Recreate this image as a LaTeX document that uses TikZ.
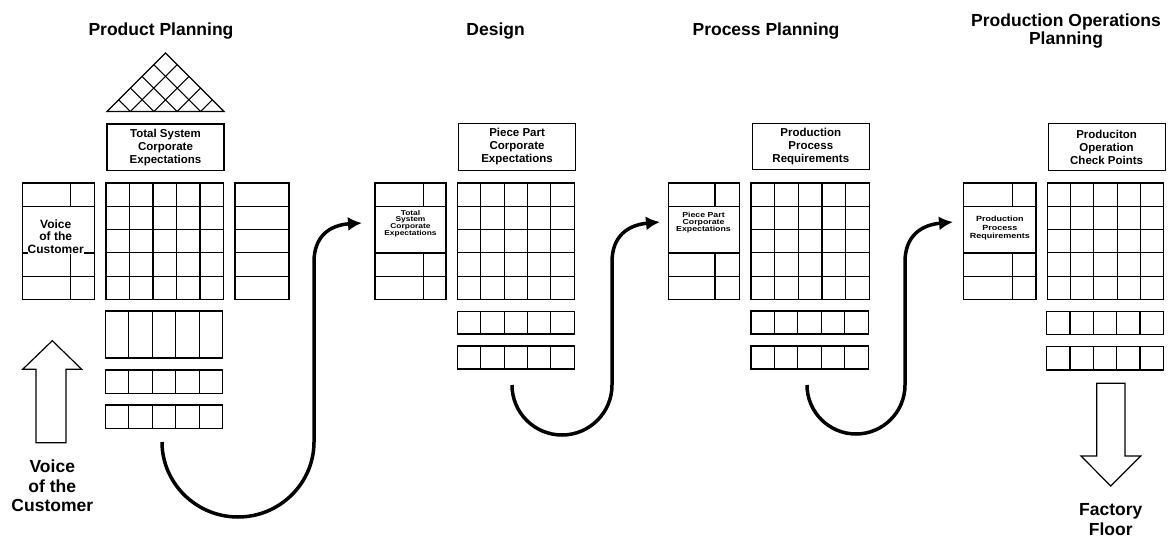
\documentclass[tikz,border=0pt]{standalone}
\usepackage{fontspec}
\usepackage{graphicx}
\setmainfont{Liberation Sans}
\usetikzlibrary{arrows.meta}

\tikzset{
  grid/.style={line width=1.1pt, black},
  flow/.style={line width=3.5pt, -{Latex[length=14pt,width=14pt]}},
  bigarrow/.style={draw, line width=1.2pt, fill=white, line join=miter},
  title/.style={font=\fontsize{17.5}{17.5}\selectfont\bfseries, align=center, inner sep=0pt},
  headbox/.style={draw, line width=1.1pt, minimum width=117pt, minimum height=46.5pt,
    inner sep=0pt, align=center, font=\fontsize{11.5}{13}\selectfont\bfseries},
  sidetxt/.style={align=center, inner sep=0pt},
}

% widened lettering for the small input lists
\newcommand\wide[1]{\scalebox{1.2}[1]{#1}}

% 5 x 5 relationship matrix
\newcommand\matrixgrid[4]{%
  \draw[grid] (#1,#2) rectangle (#3,#4);
  \foreach \k in {1,2,3,4}{
    \draw[grid] ({#1+(#3-#1)*\k/5},#2) -- ({#1+(#3-#1)*\k/5},#4);
    \draw[grid] (#1,{#2+(#4-#2)*\k/5}) -- (#3,{#2+(#4-#2)*\k/5});
  }}
% one row of five cells
\newcommand\rowgrid[4]{%
  \draw[grid] (#1,#2) rectangle (#3,#4);
  \foreach \k in {1,2,3,4}{
    \draw[grid] ({#1+(#3-#1)*\k/5},#2) -- ({#1+(#3-#1)*\k/5},#4);
  }}
% one column of five cells
\newcommand\colgrid[4]{%
  \draw[grid] (#1,#2) rectangle (#3,#4);
  \foreach \k in {1,2,3,4}{
    \draw[grid] (#1,{#2+(#4-#2)*\k/5}) -- (#3,{#2+(#4-#2)*\k/5});
  }}
% input list beside a matrix: left x, right x, divider x
\newcommand\inputbox[3]{%
  \draw[grid] (#1,183) rectangle (#2,299.4);
  \draw[grid] (#1,206.6) -- (#2,206.6);
  \draw[grid] (#1,253) -- (#2,253);
  \draw[grid] (#1,276.2) -- (#2,276.2);
  \draw[grid] (#3,183) -- (#3,206.6);
  \draw[grid] (#3,253) -- (#3,299.4);
}

\begin{document}
\begin{tikzpicture}[x=1pt,y=-1pt]
\fill[white] (0,0) rectangle (1171,540);
\useasboundingbox (0,0) rectangle (1171,540);

% ---------- titles ----------
\node[title] (tPP) at (161,31) {Product Planning};
\node[title] (tD)  at (495.6,31) {Design};
\node[title] (tPr) at (766,31) {Process Planning};
\node[title] (tPO) at (1066,31) {Production Operations\\Planning};

% ---------- stage 1: product planning ----------
% correlation roof
\draw[grid, line join=miter] (107,111.5) -- (165.5,53) -- (224,111.5) -- cycle;
\foreach \k in {1,2,3,4}{
  \pgfmathsetmacro\b{107+\k*117/5}
  \pgfmathsetmacro\ta{(224-\b)/2}
  \pgfmathsetmacro\tb{(\b-107)/2}
  \draw[grid] (\b,111.5) -- (\b+\ta,111.5-\ta);
  \draw[grid] (\b,111.5) -- (\b-\tb,111.5-\tb);
}
\node[headbox] (h1) at (165.5,147.3) {Total System\\Corporate\\Expectations};
\matrixgrid{106}{183}{223.5}{299.4}
\inputbox{22.7}{94.7}{70.7}
\node[sidetxt, fill=white, font=\fontsize{12}{12.7}\selectfont\bfseries] (v1) at (55.7,236.7) {Voice\\of the\\Customer};
\colgrid{235}{183}{289}{299.4}
\rowgrid{105.5}{311}{222.7}{358}
\rowgrid{105.5}{370}{222.7}{393.5}
\rowgrid{105.5}{405}{222.7}{428.7}

% voice of the customer input arrow
\draw[bigarrow] (36,442.7) -- (36,369.3) -- (22.7,369.3) -- (52.3,340.7)
  -- (81.7,369.3) -- (66,369.3) -- (66,442.7) -- cycle;
\node[title, font=\fontsize{17.5}{19.3}\selectfont\bfseries] (voc) at (52.3,486) {Voice\\of the\\Customer};

% ---------- stage 2: design ----------
\node[headbox] (h2) at (517.1,147) {Piece Part\\Corporate\\Expectations};
\matrixgrid{457.3}{183}{574.3}{299.4}
\inputbox{375}{446}{423.3}
\node[sidetxt, font=\bfseries\fontsize{7}{6.7}\selectfont] (in2) at (410.5,223.5)
  {\wide{Total}\\\wide{System}\\\wide{Corporate}\\\wide{Expectations}};
\rowgrid{457.3}{311.5}{574.3}{334}
\rowgrid{457.3}{346}{574.3}{369}

% ---------- stage 3: process planning ----------
\node[headbox] (h3) at (810.8,146.5) {Production\\Process\\Requirements};
\matrixgrid{751}{183}{869.3}{299.4}
\inputbox{668.3}{739.3}{715}
\node[sidetxt, font=\bfseries\fontsize{7.3}{7.4}\selectfont] (in3) at (703.5,222.7)
  {\wide{Piece Part}\\\wide{Corporate}\\\wide{Expectations}};
\rowgrid{751}{311}{868.3}{334}
\rowgrid{751}{346}{868.3}{369}

% ---------- stage 4: production operations planning ----------
\node[headbox] (h4) at (1106.6,147) {Produciton\\Operation\\Check Points};
\matrixgrid{1047.7}{183}{1163.3}{299.4}
\inputbox{963.3}{1036}{1012.7}
\node[sidetxt, font=\bfseries\fontsize{7.5}{8.3}\selectfont] (in4) at (999.8,228.3)
  {\wide{Production}\\\wide{Process}\\\wide{Requirements}};
\rowgrid{1046.7}{311.7}{1163.3}{334.3}
\rowgrid{1046.7}{346.7}{1163.3}{370}

% factory floor output arrow
\draw[bigarrow] (1096.7,383.3) -- (1096.7,456) -- (1081,456) -- (1110.7,486)
  -- (1140.7,456) -- (1125,456) -- (1125,383.3) -- cycle;
\node[title, font=\fontsize{17.5}{19.3}\selectfont\bfseries] (ff) at (1110.7,519.7) {Factory\\Floor};

% ---------- hand-offs between stages ----------
\coordinate (s1) at (162,442);
\coordinate (e1) at (362,223);
\draw[flow] (s1) .. controls (162,483) and (196,517) .. (238,517)
  .. controls (280,517) and (314,483) .. (314,442) -- (314,262)
  .. controls (314,236) and (330,225) .. (e1);

\coordinate (s2) at (512,385);
\coordinate (e2) at (660,222);
\draw[flow] (s2) .. controls (512,412.6) and (534.4,435) .. (562,435)
  .. controls (589.6,435) and (612,412.6) .. (612,385) -- (612,262)
  .. controls (612,236) and (628,225) .. (e2);

\coordinate (s3) at (807,385);
\coordinate (e3) at (953,222);
\draw[flow] (s3) .. controls (807,412) and (829,434) .. (856,434)
  .. controls (883,434) and (905,412) .. (905,385) -- (905,262)
  .. controls (905,236) and (921,225) .. (e3);
\end{tikzpicture}
\end{document}
